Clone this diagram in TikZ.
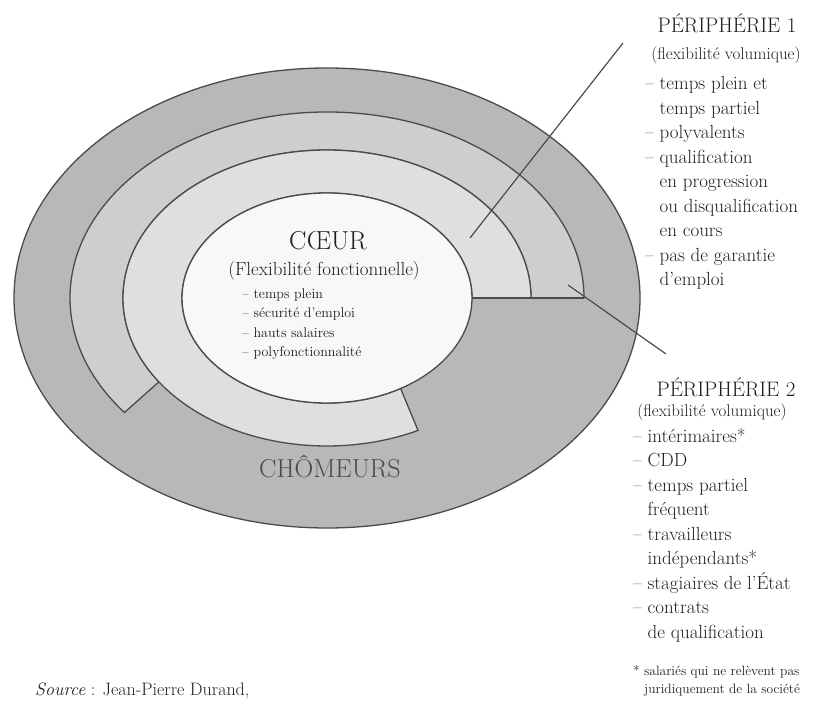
\documentclass[tikz,border=0pt]{standalone}
\usepackage{tikz}
\usepackage{xcolor}
\usetikzlibrary{calc}
\definecolor{chogray}{RGB}{184,184,184}
\definecolor{bandonegray}{RGB}{206,206,206}
\definecolor{bandtwogray}{RGB}{223,223,223}
\definecolor{coregray}{RGB}{248,248,248}
\definecolor{linegray}{RGB}{75,75,75}
\definecolor{inkgray}{RGB}{30,30,30}
\tikzset{
    ringline/.style={draw=linegray, line width=1.3pt},
    leader/.style={draw=linegray, line width=1.2pt},
    plain/.style={inner sep=0pt, text=inkgray},
    coretitle/.style={plain, font=\fontsize{26}{30}\selectfont},
    coresub/.style={plain, font=\fontsize{19}{22}\selectfont},
    coreitems/.style={plain, align=left, font=\fontsize{14}{19.5}\selectfont},
    chotitle/.style={plain, text=linegray, font=\fontsize{26}{30}\selectfont},
    perititle/.style={plain, font=\fontsize{21}{24}\selectfont},
    perisub/.style={plain, font=\fontsize{17}{20}\selectfont},
    periitems/.style={plain, align=left, font=\fontsize{19}{24.5}\selectfont},
    notetext/.style={plain, align=left, font=\fontsize{13.5}{18}\selectfont},
    sourcetext/.style={plain, font=\fontsize{18}{21}\selectfont}
}

\begin{document}
\begin{tikzpicture}[x=1pt, y=1pt]
    \useasboundingbox (0,0) rectangle (834,704);
    \coordinate (C) at (327,406);

    % rings
    \draw[ringline, fill=chogray] (C) ellipse [x radius=313, y radius=230];
    \draw[ringline, fill=bandonegray] (C) ++(0:257 and 186)
        arc [start angle=0, end angle=218, x radius=257, y radius=186]
        -- ($(C)+(214.5:204 and 148)$)
        arc [start angle=214.5, end angle=0, x radius=204, y radius=148] -- cycle;
    \draw[ringline, fill=bandtwogray] (C) ++(0:204 and 148)
        arc [start angle=0, end angle=296.5, x radius=204, y radius=148]
        -- ($(C)+(300.5:145 and 105)$)
        arc [start angle=300.5, end angle=0, x radius=145, y radius=105] -- cycle;
    \draw[ringline, fill=coregray] (C) ellipse [x radius=145, y radius=105];
    \draw[ringline] ($(C)+(0:145 and 105)$) -- ($(C)+(0:257 and 186)$);

    % core
    \node[coretitle] (coeur) at (328,463) {CŒUR};
    \node[coresub] (flexfonc) at (324,433) {(Flexibilité fonctionnelle)};
    \node[coreitems, anchor=west] (coreitems) at (242,380)
        {– temps plein\\– sécurité d’emploi\\– hauts salaires\\– polyfonctionnalité};
    \node[chotitle] (chomeurs) at (330,237) {CHÔMEURS};

    % periphery 1
    \node[perititle] (ponetitle) at (727,681) {PÉRIPHÉRIE 1};
    \node[perisub] (ponesub) at (726,649) {(flexibilité volumique)};
    \node[periitems, anchor=west] (poneitems) at (645,521)
        {– temps plein et\\\hphantom{– }temps partiel\\– polyvalents\\– qualification\\
         \hphantom{– }en progression\\\hphantom{– }ou disqualification\\\hphantom{– }en cours\\
         – pas de garantie\\\hphantom{– }d’emploi};
    \coordinate (poneband) at (470,466);
    \coordinate (ponetip) at (623,661);
    \draw[leader] (poneband) -- (ponetip);

    % periphery 2
    \node[perititle] (ptwotitle) at (726,317) {PÉRIPHÉRIE 2};
    \node[perisub] (ptwosub) at (712,292) {(flexibilité volumique)};
    \node[periitems, anchor=west] (ptwoitems) at (633,169)
        {– intérimaires*\\– CDD\\– temps partiel\\\hphantom{– }fréquent\\– travailleurs\\
         \hphantom{– }indépendants*\\– stagiaires de l’État\\– contrats\\\hphantom{– }de qualification};
    \coordinate (ptwoband) at (568,419);
    \coordinate (ptwotip) at (666,350);
    \draw[leader] (ptwoband) -- (ptwotip);

    % notes
    \node[notetext, anchor=west] (note) at (633,23)
        {* salariés qui ne relèvent pas\\\hphantom{* }juridiquement de la société};
    \node[sourcetext, anchor=west] (source) at (35,13) {\textit{Source} : Jean-Pierre Durand,};
\end{tikzpicture}
\end{document}
